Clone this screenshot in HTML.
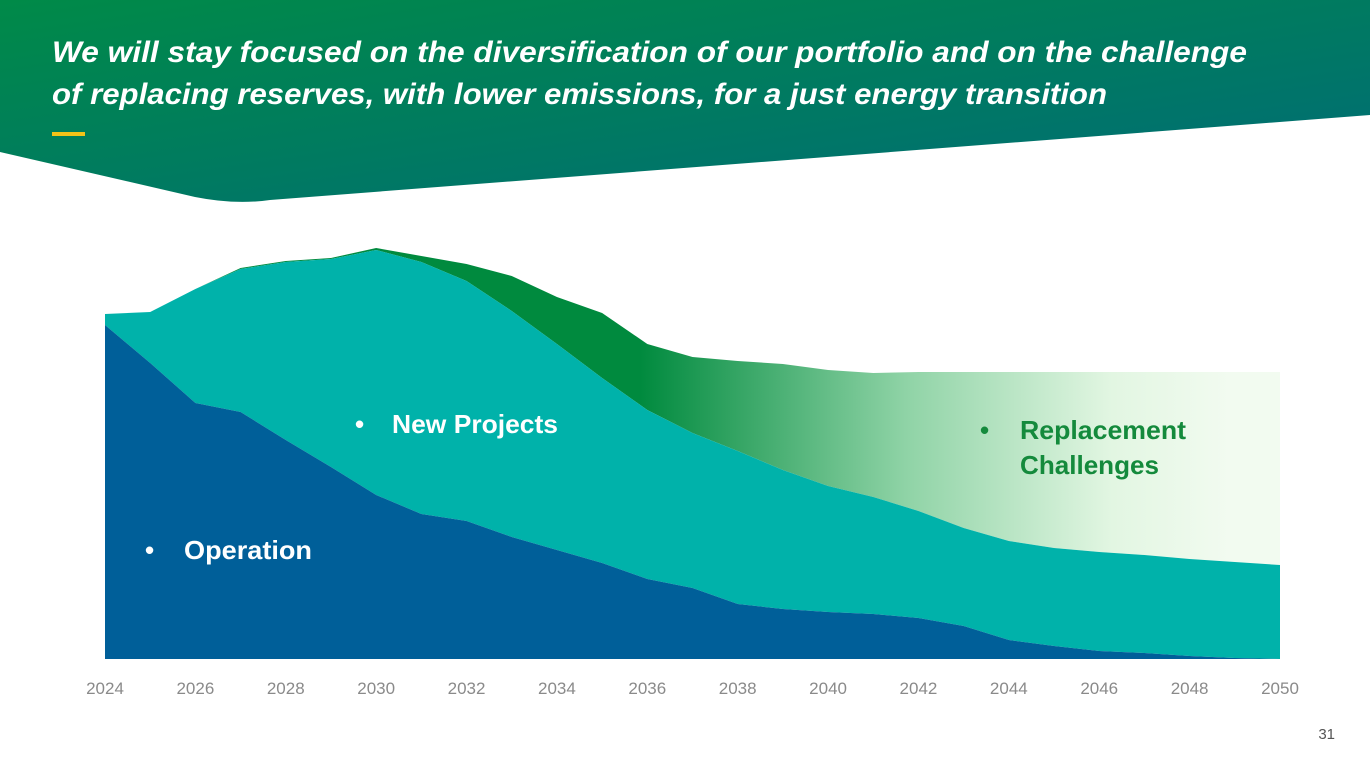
<!DOCTYPE html>
<html><head><meta charset="utf-8"><style>
html,body{margin:0;padding:0;background:#fff;}
svg{display:block;font-family:"Liberation Sans",sans-serif;}
</style></head><body>
<svg id="chart" width="1370" height="771" viewBox="0 0 1370 771" xmlns="http://www.w3.org/2000/svg">
<defs>
<linearGradient id="hdr" x1="0" y1="0" x2="1" y2="1">
<stop offset="0" stop-color="#008a48"/><stop offset="1" stop-color="#006b78"/>
</linearGradient>
<linearGradient id="repl" gradientUnits="userSpaceOnUse" x1="640" y1="0" x2="1230" y2="0">
<stop offset="0" stop-color="#008a3e"/><stop offset="0.45" stop-color="#8fd3a6"/><stop offset="0.8" stop-color="#e2f6e2"/><stop offset="1" stop-color="#f2fbf0"/>
</linearGradient>
</defs>
<path d="M0,0 L1370,0 L1370,115 L270,200 Q235,205 195,197 L0,152 Z" fill="url(#hdr)"/>
<text x="52" y="62" fill="#fff" font-size="30" font-weight="bold" font-style="italic" textLength="1195" lengthAdjust="spacingAndGlyphs">We will stay focused on the diversification of our portfolio and on the challenge</text>
<text x="52" y="104" fill="#fff" font-size="30" font-weight="bold" font-style="italic" textLength="1055" lengthAdjust="spacingAndGlyphs">of replacing reserves, with lower emissions, for a just energy transition</text>
<rect x="52" y="132" width="33" height="4" fill="#f2c318"/>
<g id="plot"></g>
<text x="145" y="559" fill="#fff" font-size="26" font-weight="bold">•</text>
<text x="184" y="559" fill="#fff" font-size="26" font-weight="bold" textLength="128" lengthAdjust="spacingAndGlyphs">Operation</text>
<text x="355" y="433" fill="#fff" font-size="26" font-weight="bold">•</text>
<text x="392" y="433" fill="#fff" font-size="26" font-weight="bold" textLength="166" lengthAdjust="spacingAndGlyphs">New Projects</text>
<text x="980" y="439" fill="#148a3c" font-size="26" font-weight="bold">•</text>
<text x="1020" y="439" fill="#148a3c" font-size="26" font-weight="bold" textLength="166" lengthAdjust="spacingAndGlyphs">Replacement</text>
<text x="1020" y="474" fill="#148a3c" font-size="26" font-weight="bold" textLength="139" lengthAdjust="spacingAndGlyphs">Challenges</text>
<text x="1335" y="739" fill="#555" font-size="15" text-anchor="end">31</text>
</svg>
<script>
const years = [2024,2025,2026,2027,2028,2029,2030,2031,2032,2033,2034,2035,2036,2037,2038,2039,2040,2041,2042,2043,2044,2045,2046,2047,2048,2049,2050];
const operation = [334,296,256,247,219,192,164,145,138,122,109,96,80,71,55,50,47,45,41,33,19,13,8,6,3,1,0];
const newProjects = [11,51,114,143,178,208,245,252,240,226,206,185,169,155,153,139,126,117,107,98,99,98,99,98,97,96,94];
const replacement = [0,0,0,1,1,1,2,6,17,35,47,65,66,76,90,106,116,124,139,156,169,176,180,183,187,190,193];
const tickYears = [2024,2026,2028,2030,2032,2034,2036,2038,2040,2042,2044,2046,2048,2050];

const X0=105,X1=1280,BASE=659;
function xs(y){return X0+(y-2024)*(X1-X0)/(2050-2024);}
function ys(v){return BASE-v;}
const plot=document.getElementById('plot');
const NS='http://www.w3.org/2000/svg';
function area(lower,upper,fill,name){
  let d='';
  years.forEach((y,i)=>{d+=(i?'L':'M')+xs(y)+','+ys(upper[i]);});
  for(let i=years.length-1;i>=0;i--) d+='L'+xs(years[i])+','+ys(lower[i]);
  const p=document.createElementNS(NS,'path');
  p.setAttribute('d',d+'Z');p.setAttribute('fill',fill);
  
  
  plot.appendChild(p);
}
const zero=years.map(()=>0);
const s1=operation.slice();
const s2=s1.map((v,i)=>v+newProjects[i]);
const s3=s2.map((v,i)=>v+replacement[i]);
area(s2,s3,'url(#repl)','area-replacement-challenges');
area(s1,s2,'#00b2aa','area-new-projects');
area(zero,s1,'#005f99','area-operation');
tickYears.forEach(y=>{
  const t=document.createElementNS(NS,'text');
  t.setAttribute('x',xs(y));t.setAttribute('y',694);
  t.setAttribute('text-anchor','middle');t.setAttribute('font-size','17');t.setAttribute('fill','#8a8a8a');
  t.textContent=y;
  
  
  plot.appendChild(t);
});
</script>
</body></html>
